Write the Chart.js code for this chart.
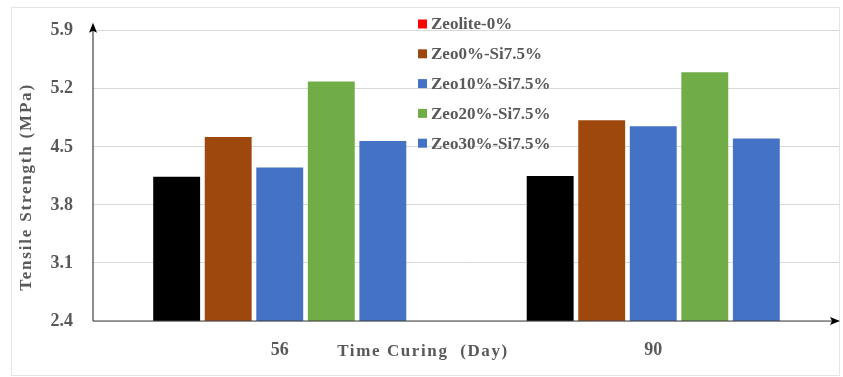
<!DOCTYPE html>
<html>
<head>
<meta charset="utf-8">
<script src="https://cdn.jsdelivr.net/npm/chart.js@4"></script>
<style>
  html, body { margin: 0; padding: 0; background: #ffffff; }
  #wrap { width: 843px; height: 377px; position: relative; }
</style>
</head>
<body>
<div id="wrap"><canvas id="chart" width="843" height="377"></canvas></div>
<script>
// Curing ages (days)
const categories = ['56', '90'];

// Tensile strength (MPa) per mix
const zeolite0 = [4.14, 4.15];
const zeo0Si75 = [4.62, 4.82];
const zeo10Si75 = [4.25, 4.75];
const zeo20Si75 = [5.29, 5.40];
const zeo30Si75 = [4.57, 4.60];

const seriesNames = ['Zeolite-0%', 'Zeo0%-Si7.5%', 'Zeo10%-Si7.5%', 'Zeo20%-Si7.5%', 'Zeo30%-Si7.5%'];
const yTicks = [2.4, 3.1, 3.8, 4.5, 5.2, 5.9];

const barColors = ['#000000', '#9E480E', '#4472C4', '#70AD47', '#4472C4'];
const legendColors = ['#FF0000', '#9E480E', '#4472C4', '#70AD47', '#4472C4'];

const FONT = '"Liberation Serif", "Times New Roman", serif';
const TEXT = '#595959';

const seriesValues = [zeolite0, zeo0Si75, zeo10Si75, zeo20Si75, zeo30Si75];

const datasets = seriesValues.map((vals, i) => ({
  label: seriesNames[i],
  data: vals,
  backgroundColor: barColors[i],
  borderWidth: 0,
  barPercentage: 0.91,
  categoryPercentage: 0.69
}));

// Frame, axis arrows, titles and the in-plot legend
const decorations = {
  id: 'decorations',
  afterDraw(chart) {
    const ctx = chart.ctx;
    const a = chart.chartArea;
    ctx.save();

    // outer frame
    ctx.strokeStyle = '#e4e4e4';
    ctx.lineWidth = 1;
    ctx.strokeRect(11.5, 7.5, 828, 368);

    // axes
    ctx.strokeStyle = '#404040';
    ctx.lineWidth = 1.2;
    ctx.beginPath();
    ctx.moveTo(a.left, a.bottom);
    ctx.lineTo(a.left, a.top - 5);
    ctx.moveTo(a.left, a.bottom);
    ctx.lineTo(a.right - 6, a.bottom);
    ctx.stroke();

    ctx.fillStyle = '#000000';
    ctx.beginPath();
    ctx.moveTo(a.left, a.top - 8);
    ctx.lineTo(a.left - 4, a.top + 2);
    ctx.lineTo(a.left, a.top);
    ctx.lineTo(a.left + 4, a.top + 2);
    ctx.closePath();
    ctx.fill();
    ctx.beginPath();
    ctx.moveTo(a.right, a.bottom);
    ctx.lineTo(a.right - 10, a.bottom - 4);
    ctx.lineTo(a.right - 8, a.bottom);
    ctx.lineTo(a.right - 10, a.bottom + 4);
    ctx.closePath();
    ctx.fill();

    // axis titles
    ctx.fillStyle = TEXT;
    ctx.font = 'bold 17px ' + FONT;
    ctx.textAlign = 'center';
    ctx.textBaseline = 'middle';
    ctx.letterSpacing = '1.6px';
    ctx.fillText('Time Curing  (Day)', 423, 352);
    ctx.save();
    ctx.translate(27, 187);
    ctx.rotate(-Math.PI / 2);
    ctx.letterSpacing = '1.8px';
    ctx.fillText('Tensile Strength (MPa)', 0, 0);
    ctx.restore();
    ctx.letterSpacing = '0px';

    // legend
    ctx.textAlign = 'left';
    ctx.font = 'bold 17px ' + FONT;
    seriesNames.forEach((name, i) => {
      const y = 24 + i * 29.8;
      ctx.fillStyle = legendColors[i];
      ctx.fillRect(418, y - 4.5, 9, 9);
      ctx.fillStyle = TEXT;
      ctx.fillText(name, 431, y + 1);
    });

    ctx.restore();
  }
};

new Chart(document.getElementById('chart'), {
  type: 'bar',
  data: { labels: categories, datasets },
  options: {
    responsive: false,
    animation: false,
    layout: { padding: { left: 10, right: 3, top: 27, bottom: 6 } },
    plugins: { legend: { display: false }, tooltip: { enabled: false } },
    scales: {
      x: {
        grid: { display: false, drawTicks: false },
        border: { display: false },
        ticks: { color: TEXT, font: { family: FONT, size: 18, weight: 'bold' }, padding: 19 },
        afterFit(s) { s.height = 50; }
      },
      y: {
        min: yTicks[0],
        max: yTicks[yTicks.length - 1],
        afterBuildTicks(s) { s.ticks = yTicks.map(v => ({ value: v })); },
        grid: { color: '#d9d9d9', lineWidth: 1, drawTicks: false },
        border: { display: false },
        ticks: {
          color: TEXT,
          font: { family: FONT, size: 18, weight: 'bold' },
          padding: 20,
          callback: v => v.toFixed(1)
        },
        afterFit(s) { s.width = 83; }
      }
    }
  },
  plugins: [decorations]
});
</script>
</body>
</html>
